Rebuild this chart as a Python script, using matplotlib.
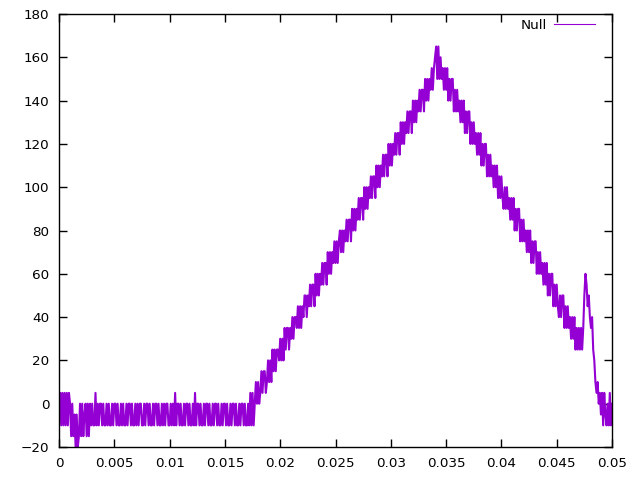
import numpy as np
import matplotlib.pyplot as plt

seg_0 = [0, 5, -10, 5, -10, 5, -10, 5, -10, 5,
         0, -15, 0, -15, -5, -20, -5, -20, -15, 0,
         -15, 0, -15, -5, 0, -15, 0, -15, 0, -10,
         0, -10, -10, 5, -10, 0, -10, 0, 0, -10,
         0, -10, -10, 0, -10, 0, -10, -10, 0, -10]
seg_1 = [0, 0, -10, 0, -10, -10, 0, -10, 0, -10,
         -10, 0, -10, 0, 0, -10, 0, -10, -10, 0,
         -10, 0, -10, 0, 0, -10, -10, 0, -10, 0,
         0, -10, 0, -10, -10, 0, -10, 0, 0, -10,
         0, -10, -10, 0, -10, 0, -10, 0, 0, -10]
seg_2 = [-10, 0, -10, 0, -10, 5, -10, 0, 0, -10,
         0, -10, -10, 0, -10, 0, 0, -10, 0, -10,
         -10, 0, -10, 5, -10, 0, 0, -10, 0, -10,
         -10, 0, -10, 0, 0, -10, 0, -10, -10, 0,
         -10, 0, 0, -10, 0, -10, -10, 0, -10, 0]
seg_3 = [0, -10, 0, -10, -10, 0, -10, 0, 0, -10,
         0, -10, -10, 0, -10, 0, 0, -10, 0, -10,
         -10, 0, -10, 5, -10, 5, -10, 0, 10, 0,
         10, 0, 5, 15, 5, 15, 15, 5, 10, 20,
         10, 20, 10, 25, 15, 25, 15, 25, 25, 20]
seg_4 = [30, 20, 30, 20, 35, 25, 35, 35, 25, 35,
         30, 40, 30, 40, 40, 35, 45, 35, 45, 35,
         45, 40, 50, 50, 40, 50, 45, 55, 45, 55,
         55, 45, 60, 50, 60, 50, 60, 55, 65, 55,
         65, 65, 55, 70, 60, 70, 60, 70, 65, 75]
seg_5 = [65, 75, 65, 75, 80, 70, 80, 70, 80, 75,
         85, 75, 85, 85, 75, 90, 80, 90, 80, 90,
         85, 95, 85, 95, 95, 85, 100, 90, 100, 90,
         100, 95, 105, 95, 105, 105, 95, 110, 100, 110,
         100, 110, 105, 115, 105, 115, 115, 105, 120, 110]
seg_6 = [120, 110, 120, 115, 125, 115, 125, 125, 115, 130,
         120, 130, 120, 130, 125, 135, 125, 135, 135, 125,
         140, 130, 140, 130, 140, 135, 145, 135, 145, 145,
         135, 150, 140, 150, 140, 150, 145, 155, 145, 155,
         160, 165, 150, 165, 150, 160, 150, 155, 145, 155]
seg_7 = [145, 155, 140, 150, 140, 150, 150, 135, 145, 135,
         145, 135, 140, 130, 140, 130, 140, 125, 135, 125,
         135, 135, 120, 130, 120, 130, 120, 125, 115, 125,
         115, 125, 110, 120, 110, 120, 120, 105, 115, 105,
         115, 105, 110, 100, 110, 100, 110, 95, 105, 95]
seg_8 = [105, 95, 90, 100, 90, 100, 90, 95, 85, 95,
         85, 95, 80, 90, 80, 90, 90, 75, 85, 75,
         85, 75, 80, 70, 80, 70, 80, 65, 75, 65,
         75, 75, 60, 70, 60, 70, 60, 65, 55, 65,
         55, 65, 50, 60, 50, 60, 60, 45, 55, 45]
seg_9 = [55, 45, 40, 50, 40, 50, 50, 35, 45, 35,
         45, 35, 40, 30, 40, 30, 40, 25, 35, 25,
         35, 25, 35, 25, 35, 50, 60, 55, 45, 50,
         40, 35, 40, 25, 20, 10, 5, 10, 0, 5,
         -5, 5, -10, 5, -5, -10, 0, -10, 5, -10, 0]

x_ticks = [0, 0.005, 0.01, 0.015, 0.02, 0.025, 0.03, 0.035, 0.04, 0.045, 0.05]
x_labels = ['0', '0.005', '0.01', '0.015', '0.02', '0.025', '0.03', '0.035', '0.04', '0.045', '0.05']
y_ticks = [-20, 0, 20, 40, 60, 80, 100, 120, 140, 160, 180]

signal = np.array(seg_0 + seg_1 + seg_2 + seg_3 + seg_4 + seg_5 + seg_6 + seg_7 + seg_8 + seg_9)
time = np.linspace(0, 0.05, len(signal))

plt.rcParams['font.family'] = ['DejaVu Sans']

fig = plt.figure(figsize=(6.4, 4.8), dpi=100)
ax = fig.add_axes([59 / 640, 33 / 480, 553 / 640, 433 / 480])

ax.plot(time, signal, color='#9400d3', linewidth=1.5, label='Null')

ax.set_xlim(0, 0.05)
ax.set_ylim(-20, 180)
ax.set_xticks(x_ticks)
ax.set_xticklabels(x_labels)
ax.set_yticks(y_ticks)

# tick stile gnuplot: verso l'interno e su tutti i lati
ax.tick_params(direction='in', length=6, width=1, top=True, right=True,
               labelsize=9.7, colors='black', pad=7)
for spine in ax.spines.values():
    spine.set_linewidth(1)

# legenda in alto a destra, testo prima della linea
leg = ax.legend(loc='upper right', bbox_to_anchor=(0.969, 0.988), frameon=False,
                markerfirst=False, fontsize=9.7, handlelength=3.0, handletextpad=0.55,
                borderaxespad=0, borderpad=0)
for line in leg.get_lines():
    line.set_linewidth(0.8)

plt.savefig('out.png', dpi=100)
plt.close()
